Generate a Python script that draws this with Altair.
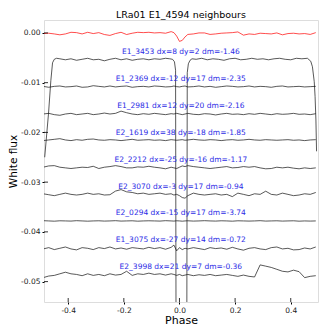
import altair as alt
import pandas as pd

# ---- data ----
PHASE = [-0.49, -0.47, -0.45, -0.43, -0.41, -0.39, -0.37, -0.35, -0.33, -0.31,
         -0.29, -0.27, -0.25, -0.23, -0.21, -0.19, -0.17, -0.15, -0.13, -0.11,
         -0.09, -0.07, -0.05, -0.03, -0.02, -0.01, 0.0, 0.01, 0.02, 0.03,
         0.05, 0.07, 0.09, 0.11, 0.13, 0.15, 0.17, 0.19, 0.21, 0.23,
         0.25, 0.27, 0.29, 0.31, 0.33, 0.35, 0.37, 0.39, 0.41, 0.43,
         0.45, 0.47, 0.49]

# target star (red), deviations in units of 1e-4
TARGET_DEV = [-1.3, -0.6, -2.0, -3.8, -2.0, 1.3, 0.6, -2.0, 1.3, -1.3,
              0.6, -3.2, -5.0, -1.3, 1.3, -3.2, -0.6, 1.3, 0.6, 1.3,
              0.0, 0.6, -0.6, 2.6, 0.6, -6.4, -17.0, -15.0, -8.0, -3.0,
              -2.0, 0.0, 0.0, -3.0, -2.0, -0.6, 0.0, 0.6, 2.0, -4.5,
              -2.0, -3.0, -0.6, -1.3, -2.0, 0.0, -3.8, -1.3, -0.6, -2.0,
              -1.3, -3.0, 0.6]

NAMES = ["E1_3453", "E1_2369", "E1_2981", "E2_1619", "E2_2212",
         "E2_3070", "E2_0294", "E1_3075", "E2_3998"]
LABELS = ["E1_3453 dx=8 dy=2 dm=-1.46",
          "E1_2369 dx=-12 dy=17 dm=-2.35",
          "E1_2981 dx=12 dy=20 dm=-2.16",
          "E2_1619 dx=38 dy=-18 dm=-1.85",
          "E2_2212 dx=-25 dy=-16 dm=-1.17",
          "E2_3070 dx=-3 dy=17 dm=-0.94",
          "E2_0294 dx=-15 dy=17 dm=-3.74",
          "E1_3075 dx=-27 dy=14 dm=-0.72",
          "E2_3998 dx=21 dy=7 dm=-0.36"]
OFFSETS = [-0.0054, -0.0108, -0.0162, -0.0216, -0.0270,
           -0.0324, -0.0378, -0.0432, -0.0486]

# E1_3453: eclipsing neighbour, own sampling
ECL_PHASE = [-0.4845, -0.4706, -0.4624, -0.4563, -0.450, -0.442, -0.43, -0.41,
             -0.39, -0.37, -0.35, -0.33, -0.31, -0.29, -0.27, -0.25, -0.23,
             -0.21, -0.19, -0.17, -0.15, -0.13, -0.11, -0.09, -0.07, -0.05,
             -0.035, -0.025, -0.018, -0.014, -0.012, 0.026, 0.028, 0.032,
             0.038, 0.045, 0.06, 0.08, 0.10, 0.12, 0.14, 0.16, 0.18, 0.20,
             0.22, 0.24, 0.26, 0.28, 0.30, 0.32, 0.34, 0.36, 0.38, 0.40,
             0.42, 0.44, 0.46, 0.472, 0.478, 0.4845, 0.4875, 0.4905, 0.4928]
ECL_FLUX = [-0.0250, -0.0161, -0.0096, -0.0060, -0.0053, -0.0051, -0.0052, -0.0054,
            -0.0052, -0.0055, -0.0053, -0.0051, -0.0054, -0.0053, -0.0056, -0.0053, -0.0051,
            -0.0054, -0.0052, -0.0055, -0.0053, -0.0052, -0.0054, -0.0052, -0.0053, -0.0051,
            -0.0052, -0.0053, -0.0058, -0.0075, -0.0700, -0.0700, -0.0080, -0.0062,
            -0.0055, -0.0052, -0.0053, -0.0051, -0.0054, -0.0052, -0.0053, -0.0055, -0.0052,
            -0.0051, -0.0054, -0.0053, -0.0051, -0.0053, -0.0052, -0.0054, -0.0052, -0.0051,
            -0.0053, -0.0054, -0.0051, -0.0052, -0.0051, -0.0057, -0.0068, -0.0098, -0.0128,
            -0.0175, -0.0238]

DEV = {
    "E1_2369": [0.6, -1.3, 0.6, 1.3, -0.6, 0.0, 1.3, -1.3, -0.6, 1.9,
                0.6, -0.6, 1.3, -0.6, 0.6, 1.3, -1.3, 0.0, 0.6, -0.6,
                1.3, 0.6, -0.6, 0.0, 1.3, 0.0, -0.6, 0.6, 1.3, -0.6,
                0.0, 1.3, -0.6, 0.6, -1.3, 0.0, 1.3, 0.6, -0.6, 0.0,
                1.3, -0.6, 0.6, 0.0, -1.3, 0.6, 1.3, -0.6, 0.0, 0.6,
                -0.6, 0.0, 0.6],
    "E1_2981": [-1.0, 0.3, -2.3, -3.6, -1.0, 0.3, -2.3, -1.0, 0.3, -2.3,
                -1.0, 0.9, -1.0, 0.3, 4.8, 1.6, -1.0, -2.3, -0.4, -1.6,
                0.3, -1.0, -2.3, -0.4, -1.0, 0.3, -1.0, -2.3, -1.0, 0.3,
                -1.6, -2.3, -0.4, -1.0, -2.9, -1.0, 0.3, -1.6, -1.0, -2.3,
                -0.4, -1.6, 0.3, -1.0, -2.3, -0.4, -1.6, -1.0, 0.3, -1.6,
                -1.0, -2.3, -0.4],
    "E2_1619": [-0.5, 0.8, 2.1, 3.4, 0.8, -0.5, 1.4, 0.2, 2.1, 2.7,
                0.8, 0.2, 1.4, 0.8, -0.5, 0.8, 2.1, 0.2, 0.8, 1.4,
                0.2, 0.8, -0.5, 1.4, 0.8, 0.2, 0.8, 1.4, 0.2, 0.8,
                2.1, 0.8, 0.2, 1.4, 0.8, -0.5, 0.8, 1.4, 0.2, 0.8,
                2.1, 0.8, 0.2, 1.4, 0.8, 0.2, 0.8, 1.4, 0.2, 0.8,
                -0.5, 0.8, 1.4],
    "E2_2212": [0.0, 2.6, 3.2, 0.0, -1.3, -2.6, -1.3, 0.0, -0.6, 1.9,
                -2.6, 0.0, 1.3, 3.2, 1.3, -1.3, -1.3, 0.6, 0.0, 1.9,
                0.0, -1.3, -3.2, 0.0, -1.3, -2.6, 0.0, 2.6, 1.3, 3.2,
                1.3, 0.0, -1.3, -2.6, -1.3, 0.0, 1.3, -1.3, -0.6, 1.3,
                0.0, 1.3, -1.3, -3.2, -2.6, 0.0, -1.3, 0.0, -1.9, -3.2,
                -1.3, -2.6, -1.3],
    "E2_3070": [0.6, -1.3, -3.2, -0.6, 1.9, -0.6, -1.9, -0.6, 1.9, -0.6,
                0.6, -1.9, -1.3, 6.0, 9.0, 4.5, 3.2, 0.6, 1.9, -0.6,
                0.6, 1.9, -0.6, 0.6, -1.9, -0.6, -3.2, -7.0, -8.3, -3.2,
                1.9, -0.6, -1.9, -0.6, 0.6, -1.9, -0.6, -5.1, 1.9, -0.6,
                -3.2, 0.6, -0.6, 5.8, -0.6, -1.9, 1.9, -0.6, -3.2, -1.9,
                0.6, -0.6, 3.2],
    "E2_0294": [0.5, 0.0, -0.5, 0.3, 0.0, -0.3, 0.5, 0.0, -0.5, 0.0,
                0.3, -0.3, 0.0, 0.5, -0.3, 0.0, 0.3, -0.5, 0.0, 0.3,
                0.0, -0.3, 0.5, 0.0, -0.3, 0.3, 0.0, -0.5, 0.0, 0.3,
                -0.3, 0.0, 0.5, 0.0, -0.3, 0.3, 0.0, -0.5, 0.3, 0.0,
                -0.3, 0.0, 0.5, -0.3, 0.0, 0.3, -0.3, 0.0, 0.3, -0.5,
                0.0, -0.3, 0.0],
    "E1_3075": [-2.3, 0.3, -3.6, -1.0, 1.6, -2.3, -4.2, 0.3, -1.0, -3.6,
                0.3, -1.6, 1.6, -2.3, -0.4, -2.9, 0.3, -1.0, -2.3, 0.9,
                -1.6, 0.3, -2.9, 0.9, 5.4, -6.1, 0.3, -3.6, -1.0, -2.3,
                0.3, -1.6, -3.6, 0.3, -1.6, -0.4, -2.9, 0.9, -2.3, -4.8,
                -1.0, 0.3, -2.3, -3.6, 0.3, 1.6, -2.3, -1.0, -4.2, -3.6,
                -0.4, -2.3, 1.6],
    "E2_3998": [-6.0, -2.8, -1.5, 1.7, 4.9, 1.7, 0.4, -2.1, 1.7, -1.5,
                0.4, -2.1, 1.7, -0.9, 0.4, 6.8, -1.5, 1.7, 0.4, 3.0,
                0.4, 1.7, -0.9, 1.7, 0.4, -1.5, 0.4, -2.1, -0.9, 0.4,
                -2.1, -0.2, -1.5, 0.4, -2.1, -0.9, 0.4, -1.5, -3.4, -0.9,
                -3.4, -4.7, 19.6, 17.1, 14.5, 10.7, 6.8, 5.5, 9.0, 6.0,
                -6.0, -3.4, -2.1],
}

X_TICKS = [-0.4, -0.2, 0.0, 0.2, 0.4]
Y_TICKS = [0.0, -0.01, -0.02, -0.03, -0.04, -0.05]

W, H = 274, 282
XD = [-0.487, 0.498]
YD = [-0.0541, 0.0026]

# ---- tables ----
rows = []
for name, off in zip(NAMES[1:], OFFSETS[1:]):
    for p, d in zip(PHASE, DEV[name]):
        rows.append({"series": name, "phase": p, "flux": off + d * 1e-4})
for p, f in zip(ECL_PHASE, ECL_FLUX):
    rows.append({"series": NAMES[0], "phase": p, "flux": f})
df = pd.DataFrame(rows)
df_t = pd.DataFrame({"phase": PHASE, "flux": [d * 1e-4 for d in TARGET_DEV]})
df_lab = pd.DataFrame({"label": LABELS, "y": [o + 0.0015 for o in OFFSETS],
                       "x": [0.005] * len(LABELS)})
df_xt = pd.DataFrame({"v": X_TICKS})
df_yt = pd.DataFrame({"v": Y_TICKS})

FONT = "DejaVu Sans"
xs = alt.Scale(domain=XD, nice=False, zero=False)
ys = alt.Scale(domain=YD, nice=False, zero=False)

xax = alt.Axis(values=X_TICKS, title="Phase", grid=False, domain=False,
               labelExpr="replace(format(datum.value, '.1f'), '\u2212', '-')",
               labelFontSize=7.5, labelFont=FONT, labelColor="#222",
               tickSize=2, tickColor="black", labelPadding=2,
               titleFont=FONT, titleFontSize=11, titleFontWeight="normal",
               titlePadding=1, titleColor="black")
yax = alt.Axis(values=Y_TICKS, title="White flux", grid=False, domain=False,
               labelExpr="replace(format(datum.value, '.2f'), '\u2212', '-')",
               labelFontSize=7.5, labelFont=FONT, labelColor="#222",
               tickSize=2, tickColor="black", labelPadding=2,
               titleFont=FONT, titleFontSize=10.5, titleFontWeight="normal",
               titlePadding=2, titleColor="black")

lines = alt.Chart(df).mark_line(clip=True, color="#111", strokeWidth=0.7).encode(
    x=alt.X("phase:Q", scale=xs, axis=xax),
    y=alt.Y("flux:Q", scale=ys, axis=yax),
    detail="series:N",
    order="phase:Q",
)
target = alt.Chart(df_t).mark_line(clip=True, color="red", strokeWidth=0.7).encode(
    x=alt.X("phase:Q", scale=xs), y=alt.Y("flux:Q", scale=ys), order="phase:Q"
)
labels = alt.Chart(df_lab).mark_text(
    font=FONT, fontSize=7.5, color="#2b2be6", align="center", baseline="middle"
).encode(x=alt.X("x:Q", scale=xs), y=alt.Y("y:Q", scale=ys), text="label:N")

xt_in = alt.Chart(df_xt).mark_rule(color="black", strokeWidth=0.8).encode(
    x=alt.X("v:Q", scale=xs), y=alt.value(H), y2=alt.value(H - 4))
yt_in = alt.Chart(df_yt).mark_rule(color="black", strokeWidth=0.8).encode(
    y=alt.Y("v:Q", scale=ys), x=alt.value(0), x2=alt.value(4))

chart = alt.layer(lines, target, labels, xt_in, yt_in).properties(
    width=W, height=H,
    title=alt.TitleParams("LRa01 E1_4594 neighbours", font=FONT, fontSize=9.5,
                          fontWeight="normal", offset=1, color="black"),
    autosize=alt.AutoSizeParams(type="none"),
    padding={"left": 36, "top": 12, "right": 1, "bottom": 25},
).configure_view(stroke="black", strokeWidth=1).configure(background="white")

chart.save("out.html", embed_options={"renderer": "svg", "actions": False})
